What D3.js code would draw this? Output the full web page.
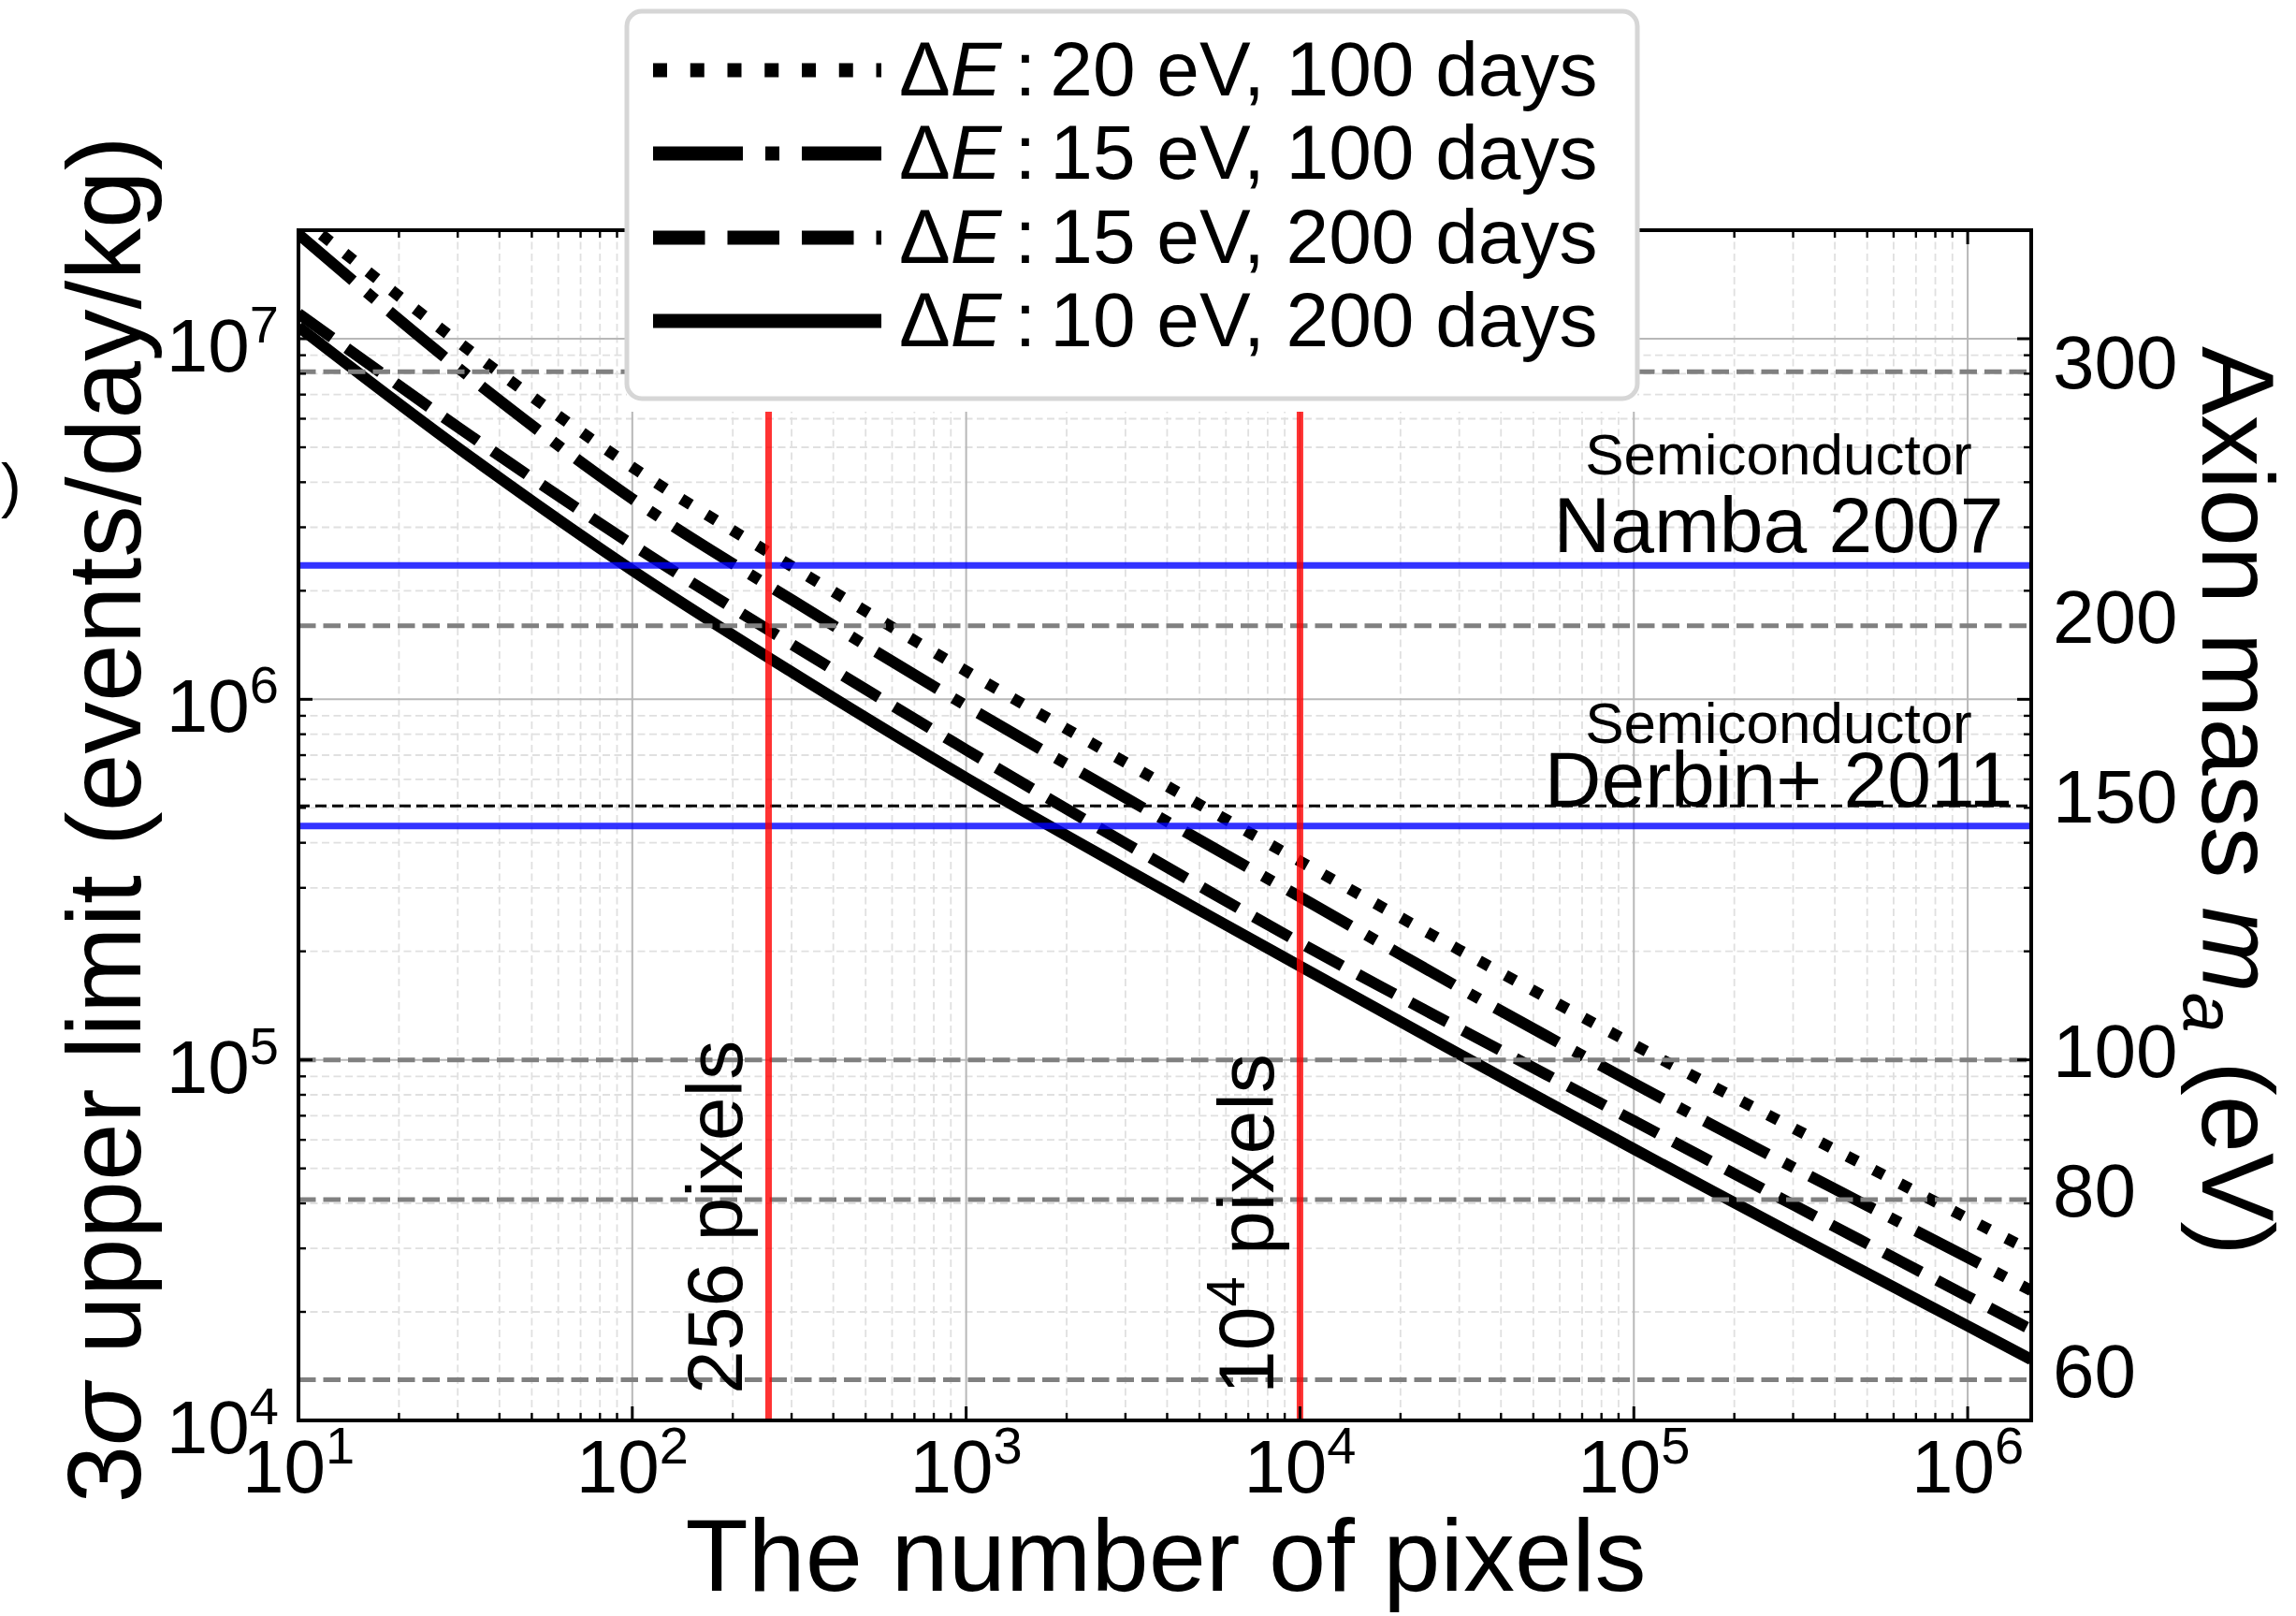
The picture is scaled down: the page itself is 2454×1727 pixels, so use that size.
<!DOCTYPE html>
<html>
<head>
<meta charset="utf-8">
<script src="https://cdn.jsdelivr.net/npm/d3@7"></script>
<style>
  body { margin: 0; background: #ffffff; }
  text { font-family: "Liberation Sans", Arial, Helvetica, sans-serif; fill: #000; }
</style>
</head>
<body>
<svg id="chart" width="2454" height="1727"></svg>
<script>
// ---- data -------------------------------------------------------------
// number of pixels at which each sensitivity curve is sampled
const pixelCounts = [10, 30, 100, 300, 1e3, 3e3, 1e4, 3e4, 1e5, 3e5, 1e6, 1.55e6];

// 3-sigma upper limit (events/day/kg) for each detector configuration
const limit20eV100d = [2.188e7, 9.817e6, 4.406e6, 2.339e6, 1.197e6, 6.683e5, 3.556e5, 2.018e5, 1.102e5, 6.471e4, 3.631e4, 2.951e4];
const limit15eV100d = [1.950e7, 8.318e6, 3.597e6, 1.888e6, 9.594e5, 5.333e5, 2.831e5, 1.585e5, 8.610e4, 5.035e4, 2.831e4, 2.291e4];
const limit15eV200d = [1.175e7, 5.689e6, 2.685e6, 1.422e6, 7.244e5, 3.990e5, 2.113e5, 1.222e5, 6.776e4, 3.963e4, 2.208e4, 1.786e4];
const limit10eV200d = [1.079e7, 4.989e6, 2.280e6, 1.191e6, 6.053e5, 3.388e5, 1.820e5, 1.038e5, 5.662e4, 3.289e4, 1.828e4, 1.476e4];

const seriesLabels = ["20 eV, 100 days", "15 eV, 100 days", "15 eV, 200 days", "10 eV, 200 days"];
const seriesStyles = ["dotted", "dashdot", "dashed", "solid"];

// axion-mass reference levels (eV) shown on the right-hand axis
const massTicks = [60, 80, 100, 150, 200, 300];
const massGuideGray = [60, 80, 100, 200, 300];
const massGuideBlack = [150];

// published semiconductor limits (events/day/kg)
const limitNames = ["Namba 2007", "Derbin+ 2011"];
const limitRates = [2.35e6, 4.45e5];

// marked detector sizes (pixels)
const markedPixels = [256, 1e4];

// tick labels (powers of ten)
const xTickExponents = ["1", "2", "3", "4", "5", "6"];
const yTickExponents = ["4", "5", "6", "7"];

// ---- layout -----------------------------------------------------------
const L = 319, R = 2171, T = 246, B = 1518;
const svg = d3.select("#chart");
svg.append("rect").attr("width", 2454).attr("height", 1727).attr("fill", "#fff");

const x = d3.scaleLog().domain([10, 1.55e6]).range([L, R]);
const y = d3.scaleLog().domain([1e4, 2e7]).range([B, T]);
// rate corresponding to an axion mass: rate = 1e5 * (m / 100 eV)^4
const massToRate = m => 1e5 * Math.pow(m / 100, 4);

const xMajor = xTickExponents.map(e => Math.pow(10, +e));
const yMajor = yTickExponents.map(e => Math.pow(10, +e));
const isPow10 = v => Math.abs(Math.log10(v) - Math.round(Math.log10(v))) < 1e-9;
const xMinor = x.ticks().filter(v => !isPow10(v) && v <= 1.55e6);
const yMinor = y.ticks().filter(v => !isPow10(v) && v <= 2e7);

svg.append("defs").append("clipPath").attr("id", "plotClip")
  .append("rect").attr("x", L).attr("y", T).attr("width", R - L).attr("height", B - T);

// ---- grid -------------------------------------------------------------
const grid = svg.append("g");
grid.selectAll(".gxm").data(xMinor).join("line")
  .attr("x1", d => x(d)).attr("x2", d => x(d)).attr("y1", T).attr("y2", B)
  .attr("stroke", "#e0e0e0").attr("stroke-width", 1.8).attr("stroke-dasharray", "8,4.5");
grid.selectAll(".gym").data(yMinor).join("line")
  .attr("y1", d => y(d)).attr("y2", d => y(d)).attr("x1", L).attr("x2", R)
  .attr("stroke", "#e0e0e0").attr("stroke-width", 1.8).attr("stroke-dasharray", "8,4.5");
grid.selectAll(".gxM").data(xMajor).join("line")
  .attr("x1", d => x(d)).attr("x2", d => x(d)).attr("y1", T).attr("y2", B)
  .attr("stroke", "#b8b8b8").attr("stroke-width", 2);
grid.selectAll(".gyM").data(yMajor).join("line")
  .attr("y1", d => y(d)).attr("y2", d => y(d)).attr("x1", L).attr("x2", R)
  .attr("stroke", "#b8b8b8").attr("stroke-width", 2);

// ---- curves -----------------------------------------------------------
const dashFor = (style, lw) => ({
  dotted: `${lw},${1.65 * lw}`,
  dashdot: `${6.4 * lw},${1.6 * lw},${lw},${1.6 * lw}`,
  dashed: `${3.7 * lw},${1.6 * lw}`,
  solid: null
})[style];

const allSeries = [limit20eV100d, limit15eV100d, limit15eV200d, limit10eV200d];
const line = d3.line().x(d => x(d[0])).y(d => y(d[1])).curve(d3.curveCatmullRom.alpha(0.5));
const curves = svg.append("g").attr("clip-path", "url(#plotClip)");
allSeries.forEach((vals, i) => {
  curves.append("path")
    .datum(pixelCounts.map((n, j) => [n, vals[j]]))
    .attr("d", line)
    .attr("fill", "none").attr("stroke", "#000").attr("stroke-width", 12)
    .attr("stroke-dasharray", dashFor(seriesStyles[i], 12));
});

// ---- reference lines --------------------------------------------------
const refs = svg.append("g").attr("clip-path", "url(#plotClip)");
refs.selectAll(".mg").data(massGuideGray).join("line")
  .attr("x1", L).attr("x2", R)
  .attr("y1", d => y(massToRate(d))).attr("y2", d => y(massToRate(d)))
  .attr("stroke", "#808080").attr("stroke-width", 5).attr("stroke-dasharray", "18.5,8");
refs.selectAll(".mb").data(massGuideBlack).join("line")
  .attr("x1", L).attr("x2", R)
  .attr("y1", d => y(massToRate(d))).attr("y2", d => y(massToRate(d)))
  .attr("stroke", "#000").attr("stroke-width", 3.2).attr("stroke-dasharray", "12,6");
refs.selectAll(".lim").data(limitRates).join("line")
  .attr("x1", L).attr("x2", R)
  .attr("y1", d => y(d)).attr("y2", d => y(d))
  .attr("stroke", "#0000ff").attr("stroke-opacity", 0.8).attr("stroke-width", 7);
refs.selectAll(".px").data(markedPixels).join("line")
  .attr("x1", d => x(d)).attr("x2", d => x(d)).attr("y1", T).attr("y2", B)
  .attr("stroke", "#ff0000").attr("stroke-opacity", 0.8).attr("stroke-width", 7);

// ---- annotations ------------------------------------------------------
const annX = 1901;
const annOffsets = [[-14, -97], [-21, -89]];
limitNames.forEach((name, i) => {
  const ly = y(limitRates[i]);
  svg.append("text").attr("x", annX).attr("y", ly + annOffsets[i][1])
    .attr("text-anchor", "middle").attr("font-size", 62).text("Semiconductor");
  svg.append("text").attr("x", annX).attr("y", ly + annOffsets[i][0])
    .attr("text-anchor", "middle").attr("font-size", 84).text(name);
});

// labels beside the marked pixel counts
markedPixels.forEach(n => {
  const t = svg.append("text")
    .attr("transform", `translate(${x(n) - 28},1490) rotate(-90)`)
    .attr("font-size", 84);
  if (n === 256) {
    t.text("256 pixels");
  } else {
    t.append("tspan").text("10");
    t.append("tspan").attr("font-size", 58).attr("dy", -31).text(String(Math.log10(n)));
    t.append("tspan").attr("dy", 31).text(" pixels");
  }
});

// ---- spines and ticks -------------------------------------------------
const axes = svg.append("g").attr("stroke", "#000");
const tickMaj = 15, tickMin = 8;
xMajor.forEach(v => {
  axes.append("line").attr("x1", x(v)).attr("x2", x(v)).attr("y1", B).attr("y2", B - tickMaj).attr("stroke-width", 3);
  axes.append("line").attr("x1", x(v)).attr("x2", x(v)).attr("y1", T).attr("y2", T + tickMaj).attr("stroke-width", 3);
});
xMinor.forEach(v => {
  axes.append("line").attr("x1", x(v)).attr("x2", x(v)).attr("y1", B).attr("y2", B - tickMin).attr("stroke-width", 2.4);
  axes.append("line").attr("x1", x(v)).attr("x2", x(v)).attr("y1", T).attr("y2", T + tickMin).attr("stroke-width", 2.4);
});
yMajor.forEach(v => {
  axes.append("line").attr("y1", y(v)).attr("y2", y(v)).attr("x1", L).attr("x2", L + tickMaj).attr("stroke-width", 3);
  axes.append("line").attr("y1", y(v)).attr("y2", y(v)).attr("x1", R).attr("x2", R - tickMaj).attr("stroke-width", 3);
});
yMinor.forEach(v => {
  axes.append("line").attr("y1", y(v)).attr("y2", y(v)).attr("x1", L).attr("x2", L + tickMin).attr("stroke-width", 2.4);
  axes.append("line").attr("y1", y(v)).attr("y2", y(v)).attr("x1", R).attr("x2", R - tickMin).attr("stroke-width", 2.4);
});
axes.append("rect").attr("x", L).attr("y", T).attr("width", R - L).attr("height", B - T)
  .attr("fill", "none").attr("stroke-width", 4);

// ---- tick labels ------------------------------------------------------
xTickExponents.forEach((e, i) => {
  const t = svg.append("text").attr("x", x(xMajor[i])).attr("y", 1595)
    .attr("text-anchor", "middle").attr("font-size", 80);
  t.append("tspan").text("10");
  t.append("tspan").attr("font-size", 56).attr("dy", -31).text(e);
});
yTickExponents.forEach((e, i) => {
  const t = svg.append("text").attr("x", 298).attr("y", y(yMajor[i]) + 35)
    .attr("text-anchor", "end").attr("font-size", 80);
  t.append("tspan").text("10");
  t.append("tspan").attr("font-size", 56).attr("dy", -31).text(e);
});
massTicks.forEach(m => {
  svg.append("text").attr("x", 2194).attr("y", y(massToRate(m)) + 18)
    .attr("font-size", 80).text(String(m));
});

// ---- axis titles ------------------------------------------------------
svg.append("text").attr("x", 1246).attr("y", 1700)
  .attr("text-anchor", "middle").attr("font-size", 110).text("The number of pixels");

const yl = svg.append("text")
  .attr("transform", `translate(150,876) rotate(-90)`)
  .attr("text-anchor", "middle").attr("font-size", 111);
yl.append("tspan").text("3");
yl.append("tspan").attr("font-style", "italic").text("σ");
yl.append("tspan").text(" upper limit (events/day/kg)");

const yr = svg.append("text")
  .attr("transform", `translate(2354,856) rotate(90)`)
  .attr("text-anchor", "middle").attr("font-size", 110);
yr.append("tspan").text("Axion mass ");
yr.append("tspan").attr("font-style", "italic").text("m");
yr.append("tspan").attr("font-style", "italic").attr("font-size", 77).attr("dy", 20).text("a");
yr.append("tspan").attr("dy", -20).text(" (eV)");

// fragment of an outer label at the left margin
svg.append("text").attr("x", 1).attr("y", 541).attr("font-size", 65).text(")");

// ---- legend -----------------------------------------------------------
const lg = svg.append("g");
lg.append("rect").attr("x", 670).attr("y", 12).attr("width", 1080).attr("height", 428)
  .attr("fill", "#fff");
lg.append("rect").attr("x", 670).attr("y", 12).attr("width", 1080).attr("height", 414)
  .attr("rx", 16).attr("fill", "#fff").attr("stroke", "#d6d6d6").attr("stroke-width", 5);
const rowY = [75, 164, 254, 343];
seriesLabels.forEach((lab, i) => {
  lg.append("line").attr("x1", 698).attr("x2", 942).attr("y1", rowY[i]).attr("y2", rowY[i])
    .attr("stroke", "#000").attr("stroke-width", 15)
    .attr("stroke-dasharray", dashFor(seriesStyles[i], 15));
  const t = lg.append("text").attr("x", 961).attr("y", rowY[i] + 27).attr("font-size", 82);
  t.append("tspan").text("Δ");
  t.append("tspan").attr("font-style", "italic").text("E");
  t.append("tspan").attr("dx", 14).text(":");
  t.append("tspan").attr("dx", 15).text(lab);
});
</script>
</body>
</html>
